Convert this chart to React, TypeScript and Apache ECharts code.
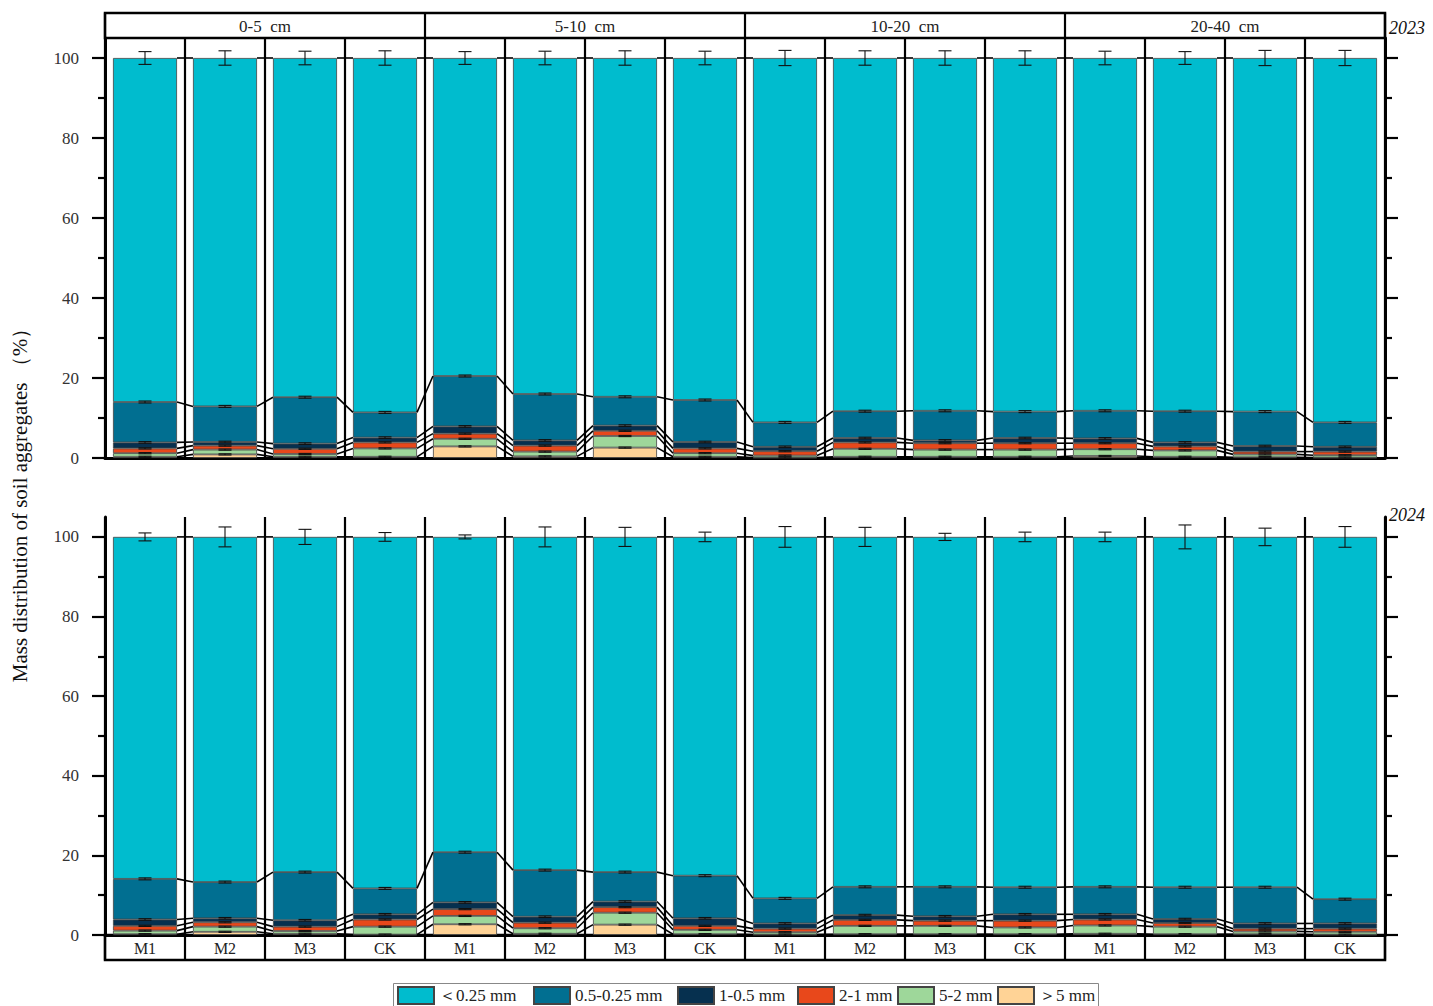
import React, { useEffect, useRef } from "react";
import * as echarts from "echarts";

// ---------- data ----------
const depths = ["0-5 cm", "5-10 cm", "10-20 cm", "20-40 cm"];
const treatments = ["M1", "M2", "M3", "CK"];
// stack order, bottom to top
const stackNames = ["＞5 mm", "5-2 mm", "2-1 mm", "1-0.5 mm", "0.5-0.25 mm", "＜0.25 mm"];
const legendOrder = ["＜0.25 mm", "0.5-0.25 mm", "1-0.5 mm", "2-1 mm", "5-2 mm", "＞5 mm"];
const years = ["2023", "2024"];
const yMajorTicks = [0, 20, 40, 60, 80, 100];
const yMinorTicks = [10, 30, 50, 70, 90];

// 2023 (%), 16 bars: depth x treatment
const gt5_2023 = [0.3, 0.9, 0.3, 0.3, 2.9, 0.4, 2.6, 0.3, 0.1, 0.3, 0.3, 0.3, 0.5, 0.3, 0.2, 0.1];
const s5_2_2023 = [0.9, 1.2, 0.7, 2.1, 1.9, 1.2, 2.9, 0.9, 0.5, 2.0, 1.8, 1.8, 1.7, 1.6, 0.7, 0.6];
const s2_1_2023 = [1.2, 1.0, 1.3, 1.5, 1.3, 1.5, 1.3, 1.2, 1.1, 1.6, 1.6, 1.6, 1.5, 1.0, 0.7, 0.9];
const s1_05_2023 = [1.5, 0.9, 1.3, 1.2, 1.8, 1.3, 1.3, 1.6, 1.1, 1.1, 0.7, 1.3, 1.2, 1.0, 1.4, 1.2];
const s05_025_2023 = [10.1, 8.9, 11.6, 6.3, 12.6, 11.6, 7.2, 10.5, 6.1, 6.7, 7.4, 6.6, 6.9, 7.8, 8.6, 6.1];
const lt025_2023 = [86.0, 87.1, 84.8, 88.6, 79.5, 84.0, 84.7, 85.5, 91.1, 88.3, 88.2, 88.4, 88.2, 88.3, 88.4, 91.1];
const topErr_2023 = [1.6, 1.8, 1.7, 1.8, 1.6, 1.7, 1.8, 1.7, 1.9, 1.8, 1.8, 1.8, 1.7, 1.6, 1.9, 1.9];

// 2024 (%)
const gt5_2024 = [0.2, 0.8, 0.3, 0.1, 2.7, 0.3, 2.6, 0.2, 0.1, 0.2, 0.2, 0.2, 0.3, 0.2, 0.2, 0.1];
const s5_2_2024 = [0.9, 1.3, 0.7, 2.0, 2.1, 1.4, 3.0, 1.1, 0.6, 2.1, 2.1, 1.7, 2.1, 1.9, 0.7, 0.7];
const s2_1_2024 = [1.2, 1.1, 1.1, 1.8, 1.7, 1.4, 1.4, 1.0, 0.9, 1.5, 1.3, 1.7, 1.5, 0.9, 0.7, 0.8];
const s1_05_2024 = [1.6, 1.0, 1.6, 1.3, 1.7, 1.5, 1.4, 1.9, 1.3, 1.2, 1.1, 1.6, 1.3, 1.0, 1.3, 1.3];
const s05_025_2024 = [10.2, 9.1, 12.1, 6.5, 12.6, 11.7, 7.4, 10.7, 6.3, 7.1, 7.4, 6.8, 6.9, 8.0, 9.1, 6.1];
const lt025_2024 = [85.9, 86.7, 84.2, 88.3, 79.2, 83.7, 84.2, 85.1, 90.8, 87.9, 87.9, 88.0, 87.9, 88.0, 88.0, 91.0];
const topErr_2024 = [1.0, 2.5, 1.9, 1.1, 0.5, 2.5, 2.4, 1.2, 2.6, 2.4, 0.9, 1.2, 1.2, 3.0, 2.2, 2.6];

// small error at tops of lower size classes (bottom to top)
const segmentErr = [0.15, 0.15, 0.15, 0.2, 0.25];

// ---------- styles ----------
const COLORS: Record<string, string> = {
  "＜0.25 mm": "#00BCCE",
  "0.5-0.25 mm": "#016F91",
  "1-0.5 mm": "#06304F",
  "2-1 mm": "#E8481B",
  "5-2 mm": "#9ED79A",
  "＞5 mm": "#FFD396",
};
const legendLefts = [397, 533, 677, 797, 897, 997];
const FONT = "'Liberation Serif', 'Times New Roman', serif";

const barIds = depths.flatMap((d) => treatments.map((t) => `${d}|${t}`));
const yearLayers = [
  [gt5_2023, s5_2_2023, s2_1_2023, s1_05_2023, s05_025_2023, lt025_2023],
  [gt5_2024, s5_2_2024, s2_1_2024, s1_05_2024, s05_025_2024, lt025_2024],
];
const yearTopErr = [topErr_2023, topErr_2024];

function cumulative(layers: number[][]) {
  return barIds.map((_, i) => {
    let s = 0;
    return layers.map((l) => (s += l[i]));
  });
}

const connectRender = (params: any, api: any) => {
  const i = api.value(0);
  const band = api.size([1, 0])[0];
  const half = band * 0.4;
  const children: any[] = [];
  for (let k = 0; k < 6; k++) {
    const a = api.coord([i, api.value(1 + k)]);
    const b = api.coord([i + 1, api.value(7 + k)]);
    children.push({
      type: "line",
      shape: { x1: a[0] + half, y1: a[1], x2: b[0] - half, y2: b[1] },
      style: { stroke: "#000", lineWidth: 1.6 },
    });
  }
  return { type: "group", children };
};

const errRender = (params: any, api: any) => {
  const i = api.value(0);
  const v = api.value(1);
  const e = api.value(2);
  const t = api.coord([i, v + e]);
  const b = api.coord([i, v - e]);
  const cap = 6.5;
  const st = { stroke: "#111", lineWidth: 1.1 };
  return {
    type: "group",
    children: [
      { type: "line", shape: { x1: t[0], y1: t[1], x2: b[0], y2: b[1] }, style: st },
      { type: "line", shape: { x1: t[0] - cap, y1: t[1], x2: t[0] + cap, y2: t[1] }, style: st },
      { type: "line", shape: { x1: b[0] - cap, y1: b[1], x2: b[0] + cap, y2: b[1] }, style: st },
    ],
  };
};

function buildOption() {
  const grids = [
    { left: 105, width: 1280, top: 13, height: 25, show: true, borderColor: "#000", borderWidth: 2.5, backgroundColor: "transparent" },
    { left: 105, width: 1280, top: 38, height: 420 },
    { left: 105, width: 1280, top: 517, height: 418 },
    { left: 105, width: 1280, top: 935, height: 25, show: true, borderColor: "#000", borderWidth: 2.5, backgroundColor: "transparent" },
  ];

  const split = { show: true, interval: 0, lineStyle: { color: "#000", width: 2.2 } };
  const xAxes: any[] = [
    {
      gridIndex: 0, type: "category", data: depths, position: "top",
      axisLine: { show: false }, axisTick: { show: false }, splitLine: split,
      axisLabel: {
        inside: true, margin: 5, interval: 0, fontFamily: FONT, fontSize: 17, color: "#222",
        formatter: (v: string) => v.replace(" ", "  "),
      },
    },
    {
      gridIndex: 1, type: "category", data: barIds,
      axisLine: { show: true, lineStyle: { color: "#000", width: 3 } },
      axisTick: { show: false }, axisLabel: { show: false }, splitLine: split,
    },
    {
      gridIndex: 2, type: "category", data: barIds,
      axisLine: { show: true, lineStyle: { color: "#000", width: 3 } },
      axisTick: { show: false }, axisLabel: { show: false }, splitLine: split,
    },
    {
      gridIndex: 3, type: "category", data: barIds, position: "top",
      axisLine: { show: false }, axisTick: { show: false }, splitLine: split,
      axisLabel: {
        inside: true, margin: 5, interval: 0, fontFamily: FONT, fontSize: 16, color: "#222",
        formatter: (v: string) => v.split("|")[1],
      },
    },
  ];

  const yAxes: any[] = [{ gridIndex: 0, type: "value", show: false }];
  const panelY = (g: number) => {
    const base = { gridIndex: g, type: "value", min: 0, max: 105, splitLine: { show: false } };
    return [
      {
        ...base, position: "left",
        axisLine: { show: true, lineStyle: { color: "#000", width: 3 } },
        axisTick: { show: true, customValues: yMajorTicks, length: 13, lineStyle: { color: "#000", width: 2.2 } },
        axisLabel: { show: true, customValues: yMajorTicks, margin: 26, fontFamily: FONT, fontSize: 17, color: "#333" },
      },
      {
        ...base, position: "left",
        axisLine: { show: false },
        axisTick: { show: true, customValues: yMinorTicks, length: 7, lineStyle: { color: "#000", width: 2.2 } },
        axisLabel: { show: false },
      },
      {
        ...base, position: "right",
        axisLine: { show: true, lineStyle: { color: "#000", width: 3 } },
        axisTick: { show: true, customValues: yMajorTicks, length: 13, lineStyle: { color: "#000", width: 2.2 } },
        axisLabel: { show: false },
      },
      {
        ...base, position: "right",
        axisLine: { show: false },
        axisTick: { show: true, customValues: yMinorTicks, length: 7, lineStyle: { color: "#000", width: 2.2 } },
        axisLabel: { show: false },
      },
    ];
  };
  yAxes.push(...panelY(1)); // indices 1..4
  yAxes.push(...panelY(2)); // indices 5..8
  yAxes.push({ gridIndex: 3, type: "value", show: false }); // 9

  const series: any[] = [];
  years.forEach((yr, p) => {
    const xIdx = p + 1;
    const yIdx = p === 0 ? 1 : 5;
    const layers = yearLayers[p];
    const cum = cumulative(layers);
    stackNames.forEach((name, k) => {
      series.push({
        name, type: "bar", stack: "s" + yr, xAxisIndex: xIdx, yAxisIndex: yIdx,
        barWidth: "80%", data: layers[k],
        itemStyle: { color: COLORS[name], borderColor: "#444", borderWidth: 0.8 },
      });
    });
    const connData = barIds.slice(0, -1).map((_, i) => [i, ...cum[i], ...cum[i + 1]]);
    series.push({
      type: "custom", xAxisIndex: xIdx, yAxisIndex: yIdx, renderItem: connectRender,
      data: connData, encode: { x: 0, y: 1 }, z: 5, clip: false, silent: true,
    });
    const errData: number[][] = [];
    barIds.forEach((_, i) => {
      for (let k = 0; k < 5; k++) errData.push([i, cum[i][k], segmentErr[k]]);
      errData.push([i, cum[i][5], yearTopErr[p][i]]);
    });
    series.push({
      type: "custom", xAxisIndex: xIdx, yAxisIndex: yIdx, renderItem: errRender,
      data: errData, encode: { x: 0, y: 1 }, z: 6, clip: false, silent: true,
    });
  });

  const legends = legendOrder.map((name, k) => ({
    left: legendLefts[k], top: 986, orient: "horizontal",
    itemWidth: 36, itemHeight: 17, itemGap: 0, padding: 0,
    icon: "rect", data: [name],
    textStyle: { fontFamily: FONT, fontSize: 17, color: "#222" },
  }));

  return {
    animation: false,
    backgroundColor: "#fff",
    grid: grids,
    xAxis: xAxes,
    yAxis: yAxes,
    legend: legends,
    graphic: [
      {
        type: "rect", shape: { x: 393.5, y: 983.5, width: 705, height: 26 },
        style: { fill: "none", stroke: "#888", lineWidth: 1 }, silent: true,
      },
      {
        type: "text", x: 20, y: 500, rotation: Math.PI / 2,
        style: {
          text: "Mass distribution of soil aggregates （%）",
          fontFamily: FONT, fontSize: 21, fill: "#111", textAlign: "center", textVerticalAlign: "middle",
        },
      },
      {
        type: "text", x: 1389, y: 28,
        style: { text: years[0], fontFamily: FONT, fontSize: 18, fontStyle: "italic", fill: "#111", textVerticalAlign: "middle" },
      },
      {
        type: "text", x: 1389, y: 515,
        style: { text: years[1], fontFamily: FONT, fontSize: 18, fontStyle: "italic", fill: "#111", textVerticalAlign: "middle" },
      },
    ],
    series,
  };
}

export default function App() {
  const ref = useRef<HTMLDivElement>(null);
  useEffect(() => {
    if (!ref.current) return;
    const chart = echarts.init(ref.current, undefined, { renderer: "svg" });
    chart.setOption(buildOption() as any);
    return () => chart.dispose();
  }, []);
  return (
    <div
      ref={ref}
      style={{ position: "fixed", left: 0, top: 0, width: 1433, height: 1006, background: "#fff" }}
    />
  );
}
